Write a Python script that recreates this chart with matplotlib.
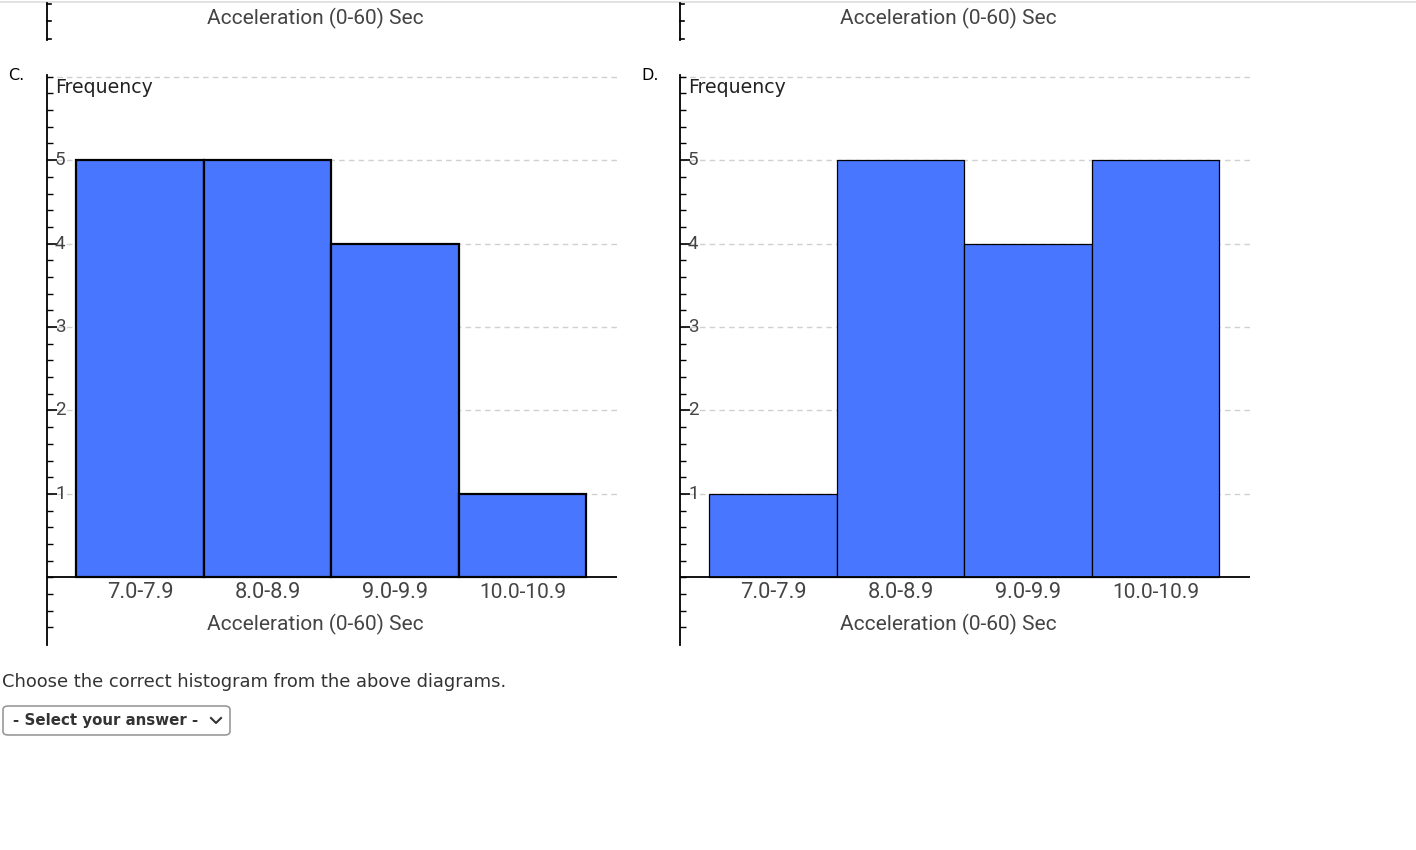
import matplotlib
matplotlib.use("Agg")
import matplotlib.pyplot as plt
from matplotlib.patches import FancyBboxPatch
from matplotlib.lines import Line2D
from matplotlib import font_manager
import numpy as np

# ---- data ----
categories = ["7.0-7.9", "8.0-8.9", "9.0-9.9", "10.0-10.9"]
freq_c = [5, 5, 4, 1]
freq_d = [1, 5, 4, 5]
panel_labels = ["C.", "D."]
x_title = "Acceleration (0-60) Sec"
y_title = "Frequency"
question = "Choose the correct histogram from the above diagrams."
select_text = "- Select your answer -"

W, H = 1416, 850
fig = plt.figure(figsize=(W / 100, H / 100), dpi=100)
renderer = fig.canvas.get_renderer()

names = {f.name for f in font_manager.fontManager.ttflist}
NARROW = "Roboto" if "Roboto" in names else "DejaVu Sans"
BAR_COLOR = "#4876FF"

def fx(x):
    return x / W

def fy(y):
    return 1 - y / H

def fit(t, width_px):
    """scale font size so that text t has the given width in pixels"""
    fs = t.get_fontsize()
    w = t.get_window_extent(renderer).width
    t.set_fontsize(fs * width_px / w)
    return t

# light top border
fig.add_artist(Line2D([0, 1], [fy(2), fy(2)], color="#dddddd", lw=1.2))

def draw_panel(left_px, values, label, edge_lw):
    ax = fig.add_axes([fx(left_px), fy(645), 570 / W, 570 / H])
    ax.set_xlim(-0.23, 4.24)
    ax.set_ylim(-0.81, 6.02)
    for s in ["top", "right", "bottom"]:
        ax.spines[s].set_visible(False)
    ax.spines["left"].set_linewidth(1.3)
    for g in range(1, 7):
        ax.axhline(g, color="#d0d0d0", lw=1.0, ls=(0, (4, 3)), zorder=0)
    xs = np.arange(len(values))
    ax.bar(xs, values, width=1.0, align="edge", color=BAR_COLOR,
           edgecolor="black", linewidth=edge_lw, zorder=2)
    ax.axhline(0, color="black", lw=1.3, zorder=3)
    ax.set_yticks(range(1, 6))
    ax.set_yticks(np.arange(-0.6, 6.01, 0.2), minor=True)
    ax.tick_params(axis="y", which="major", direction="in", length=7, width=1.2,
                   labelleft=False)
    ax.tick_params(axis="y", which="minor", direction="in", length=4, width=1.0)
    ax.set_xticks([])
    ytr = ax.get_yaxis_transform()
    for v in range(1, 6):
        ax.text(0.014, v, str(v), transform=ytr, ha="left", va="center",
                fontsize=13.5, color="#444444", family=NARROW)
    widths = [67, 67, 67, 88]
    for i, c in enumerate(categories):
        t = ax.text(i + 0.5, -0.18, c, ha="center", va="center", fontsize=14,
                    color="#444444", family=NARROW)
        fit(t, widths[i])
    t = ax.text(0.47, -0.565, x_title, transform=ytr, ha="center", va="center",
                fontsize=15, color="#444444", family=NARROW)
    fit(t, 217)
    t = ax.text(0.014, 5.87, y_title, transform=ytr, ha="left", va="center",
                fontsize=12.5, color="#222222", family="DejaVu Sans")
    fit(t, 98)
    fig.text(fx(left_px - 39), fy(76), label, ha="left", va="center",
             fontsize=11.5, color="black", family="DejaVu Sans")
    # cut-off piece of the chart above
    fig.add_artist(Line2D([fx(left_px), fx(left_px)], [fy(3), fy(40)],
                          color="black", lw=1.3))
    for yy in [4, 21, 39]:
        fig.add_artist(Line2D([fx(left_px), fx(left_px + 4)], [fy(yy), fy(yy)],
                              color="black", lw=1.2))
    t = fig.text(fx(left_px + 268), fy(18), x_title, ha="center", va="center",
                 fontsize=15, color="#444444", family=NARROW)
    fit(t, 217)
    return ax

draw_panel(47, freq_c, panel_labels[0], 1.6)
draw_panel(680, freq_d, panel_labels[1], 0.9)

t = fig.text(fx(2), fy(682), question, ha="left", va="center", fontsize=12.5,
             color="#333333", family="DejaVu Sans")
fit(t, 508)

box = FancyBboxPatch((fx(3), fy(735)), fx(227), (29 / H),
                     boxstyle="round,pad=0,rounding_size=0.004",
                     transform=fig.transFigure, facecolor="white",
                     edgecolor="#999999", lw=1.2)
fig.add_artist(box)
t = fig.text(fx(13), fy(721), select_text, ha="left", va="center", fontsize=10.8,
             fontweight="bold", color="#333333", family="DejaVu Sans")
fit(t, 185)
fig.add_artist(Line2D([fx(211), fx(216), fx(221)], [fy(718), fy(723), fy(718)],
                      color="#333333", lw=1.5))

fig.savefig("out.png", dpi=100)
